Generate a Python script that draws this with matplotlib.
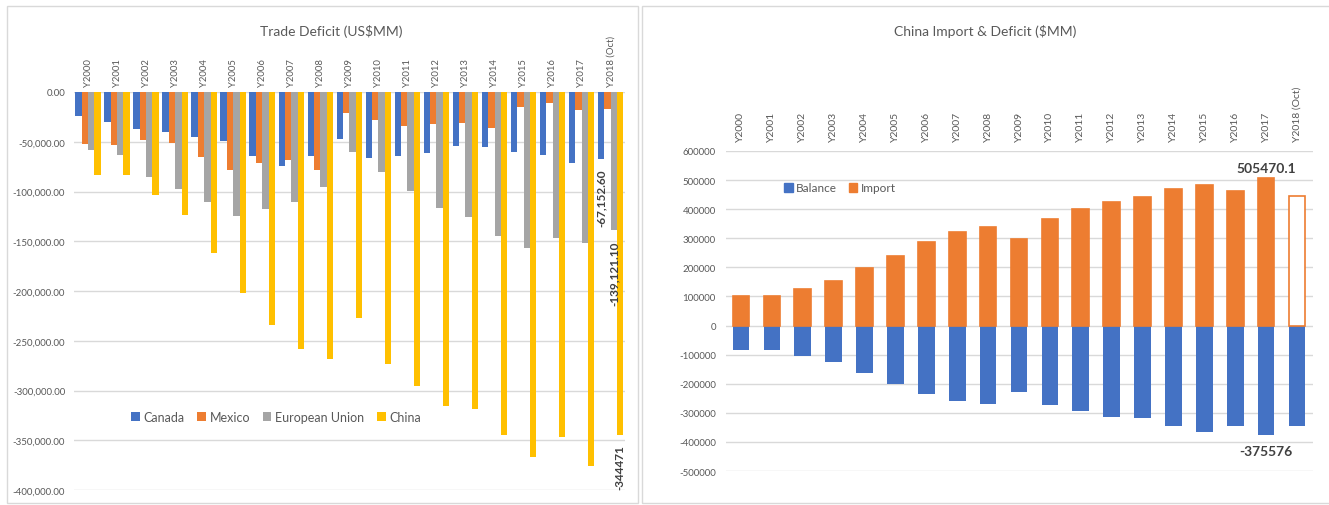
import numpy as np
import matplotlib
matplotlib.use('Agg')
import matplotlib.pyplot as plt
from matplotlib.patches import Patch, Rectangle

plt.rcParams['font.family'] = ['Lato', 'DejaVu Sans']

# -------------------------------
# data (US$ MM)
# -------------------------------
years = ['Y2000', 'Y2001', 'Y2002', 'Y2003', 'Y2004', 'Y2005', 'Y2006', 'Y2007',
         'Y2008', 'Y2009', 'Y2010', 'Y2011', 'Y2012', 'Y2013', 'Y2014', 'Y2015',
         'Y2016', 'Y2017', 'Y2018 (Oct)']

canada = [-24600, -30000, -37100, -40600, -45100, -49700, -64500, -74800, -64700,
          -47700, -66400, -64500, -61700, -54600, -55100, -60700, -63200, -71100, -67152.60]
mexico = [-51900, -52800, -48200, -51700, -65800, -78500, -71800, -68200, -78300,
          -21600, -28400, -34500, -31900, -31500, -35800, -15500, -11000, -17600, -17500]
eu = [-58000, -63500, -85300, -97500, -110300, -124400, -118000, -110200, -95800,
      -60500, -80000, -99500, -116400, -125500, -144500, -156500, -146800, -151400, -139121.10]
china = [-83800, -83100, -103100, -124100, -162300, -202300, -234100, -258500, -268000,
         -226900, -273000, -295300, -315100, -318700, -344800, -367300, -346800, -375576, -344471]

china_import = [100000, 102300, 125200, 152400, 196700, 240000, 287800, 321400, 337800,
                296400, 365000, 399400, 425600, 440400, 468500, 483200, 462400, 505470.1, 445000]

left_ticks = [0, -50000, -100000, -150000, -200000, -250000, -300000, -350000, -400000]
right_ticks = [600000, 500000, 400000, 300000, 200000, 100000, 0,
               -100000, -200000, -300000, -400000, -500000]

# -------------------------------
# style
# -------------------------------
c_blue = '#4472C4'
c_orange = '#ED7D31'
c_gray = '#A5A5A5'
c_yellow = '#FFC000'
txt = '#595959'
grid_c = '#D9D9D9'

W, H = 1329, 506
fig = plt.figure(figsize=(W / 100, H / 100), dpi=100)


def px(x0, y0, x1, y1):
    # pixel box (top-left origin) -> figure fraction rect
    return [x0 / W, 1 - y1 / H, (x1 - x0) / W, (y1 - y0) / H]


# panel frames
for x0, x1 in [(7, 638), (642, 1340)]:
    fig.patches.append(Rectangle((x0 / W, 2 / H), (x1 - x0) / W, (H - 9) / H,
                                 transform=fig.transFigure, fill=False,
                                 edgecolor='#D9D9D9', linewidth=1))

x = np.arange(len(years))

# -------------------------------
# left chart: trade deficit
# -------------------------------
ax1 = fig.add_axes(px(73.5, 93, 625.2, 491))
bw = 0.22
series = [('Canada', canada, c_blue), ('Mexico', mexico, c_orange),
          ('European Union', eu, c_gray), ('China', china, c_yellow)]
for k, (name, vals, col) in enumerate(series):
    ax1.bar(x + (k - 1.5) * bw, vals, bw, color=col, label=name, zorder=2)

ax1.set_xlim(-0.5, len(years) - 0.5)
ax1.set_ylim(-400000, 0)
ax1.set_yticks(left_ticks)
ax1.set_yticklabels([f'{v:,.2f}' for v in left_ticks])
ax1.yaxis.grid(True, color=grid_c, linewidth=1, zorder=0)
ax1.set_axisbelow(True)
ax1.xaxis.tick_top()
ax1.set_xticks(x)
ax1.set_xticklabels(years, rotation=90, fontsize=6.8, color=txt)
ax1.tick_params(axis='x', length=0, pad=4)
ax1.tick_params(axis='y', length=0, labelsize=7, labelcolor=txt, pad=6)
for s in ax1.spines.values():
    s.set_visible(False)

last = len(years) - 1
for k, vals in [(0, canada), (2, eu), (3, china)]:
    v = vals[last]
    lab = f'{v:,.2f}' if k != 3 else f'{v:.0f}'
    ax1.annotate(lab, (last + (k - 1.5) * bw, v), xytext=(0, -7),
                 textcoords='offset points', rotation=90, ha='center', va='top',
                 fontsize=8.5, fontweight='bold', color='#404040', annotation_clip=False)

ax1.legend(loc='center', bbox_to_anchor=(276 / W, 1 - 418 / H), bbox_transform=fig.transFigure,
           ncol=4, frameon=False, fontsize=9, labelcolor=txt, handlelength=0.7,
           handleheight=0.7, handletextpad=0.3, columnspacing=1.0)
fig.text(331 / W, 1 - 31 / H, 'Trade Deficit (US$MM)', ha='center', va='center',
         fontsize=10, color=txt)

# -------------------------------
# right chart: china import & deficit
# -------------------------------
ax2 = fig.add_axes(px(725.5, 152, 1312.5, 472))
bw2 = 0.54
ax2.bar(x, china, bw2, color=c_blue, label='Balance', zorder=2)
face = ['white' if i == last else c_orange for i in x]
ax2.bar(x, china_import, bw2, color=face, edgecolor=c_orange, linewidth=1.2,
        label='Import', zorder=2)

ax2.set_xlim(-0.5, len(years) - 0.5)
ax2.set_ylim(-500000, 600000)
ax2.set_yticks(right_ticks)
ax2.set_yticklabels([str(v) for v in right_ticks])
ax2.yaxis.grid(True, color=grid_c, linewidth=1, zorder=0)
ax2.set_axisbelow(True)
ax2.xaxis.tick_top()
ax2.set_xticks(x)
ax2.set_xticklabels(years, rotation=90, fontsize=7.5, color=txt)
ax2.tick_params(axis='x', length=0, pad=7)
ax2.tick_params(axis='y', length=0, labelsize=7, labelcolor=txt, pad=7)
for s in ax2.spines.values():
    s.set_visible(False)

i17 = years.index('Y2017')
ax2.annotate(f'{china_import[i17]}', (i17, china_import[i17]), xytext=(0, 3),
             textcoords='offset points', ha='center', va='bottom',
             fontsize=10, fontweight='bold', color='#404040')
ax2.annotate(f'{china[i17]}', (i17, china[i17]), xytext=(0, -7),
             textcoords='offset points', ha='center', va='top',
             fontsize=10, fontweight='bold', color='#404040')

handles = [Patch(color=c_blue, label='Balance'), Patch(color=c_orange, label='Import')]
ax2.legend(handles=handles, loc='center', bbox_to_anchor=(840 / W, 1 - 189 / H),
           bbox_transform=fig.transFigure, ncol=2, frameon=False, fontsize=8.5,
           labelcolor=txt, handlelength=0.7, handleheight=0.7, handletextpad=0.3,
           columnspacing=1.0)
fig.text(985 / W, 1 - 31 / H, 'China Import & Deficit ($MM)', ha='center', va='center',
         fontsize=10, color=txt)

fig.savefig('out.png', dpi=100)
